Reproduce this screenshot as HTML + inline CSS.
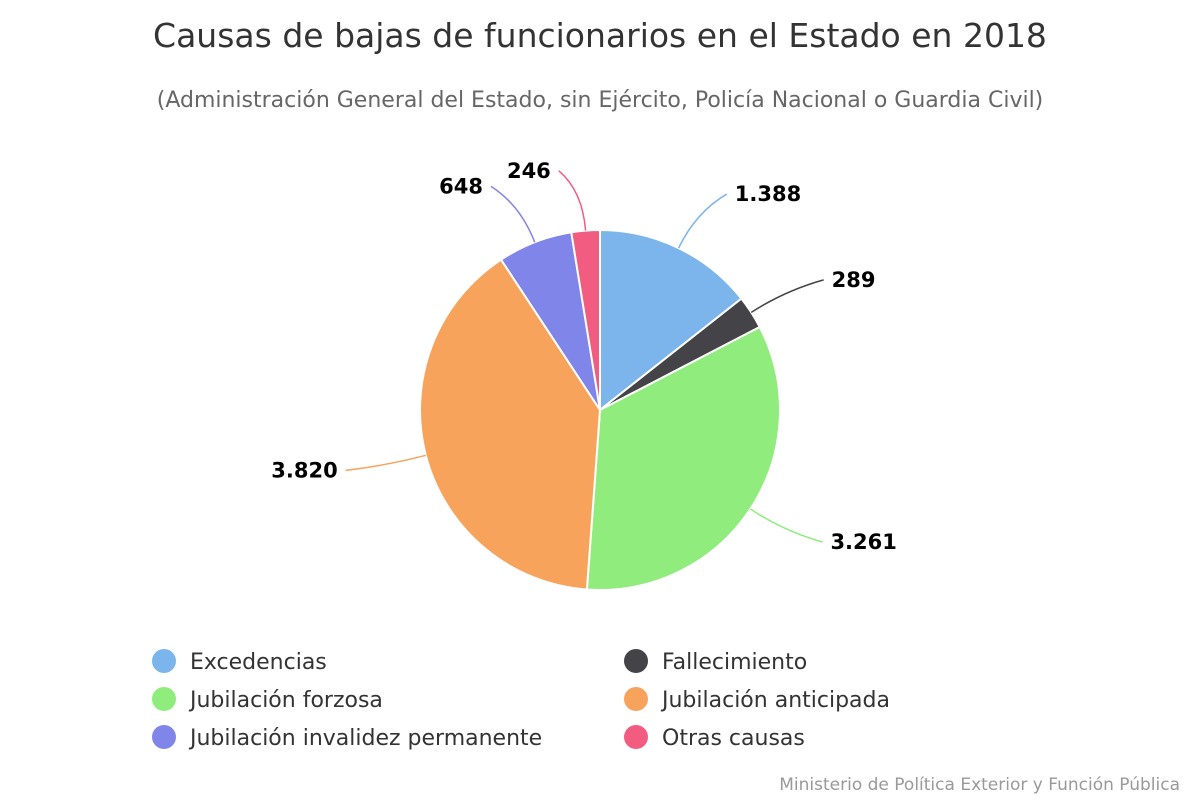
<!DOCTYPE html>
<html><head><meta charset="utf-8">
<style>
body{margin:0;background:#fff;font-family:"DejaVu Sans","Liberation Sans",sans-serif;}
</style></head>
<body>
<svg id="chart" width="1200" height="800" xmlns="http://www.w3.org/2000/svg" font-family="DejaVu Sans, Liberation Sans, sans-serif">
<rect width="1200" height="800" fill="#fff"/>
<text x="600" y="47" text-anchor="middle" font-size="33" fill="#333">Causas de bajas de funcionarios en el Estado en 2018</text>
<text x="600" y="107" text-anchor="middle" font-size="22" fill="#666">(Administración General del Estado, sin Ejército, Policía Nacional o Guardia Civil)</text>
<g id="pie"></g>
<g id="legend"></g>
<text x="1180" y="790" text-anchor="end" font-size="17" fill="#999">Ministerio de Política Exterior y Función Pública</text>
</svg>
<script>
const categories=["Excedencias","Fallecimiento","Jubilación forzosa","Jubilación anticipada","Jubilación invalidez permanente","Otras causas"];
const values=[1388,289,3261,3820,648,246];
const valueLabels=["1.388","289","3.261","3.820","648","246"];
const colors=["#7cb5ec","#434348","#90ed7d","#f7a35c","#8085e9","#f15c80"];
const NS="http://www.w3.org/2000/svg";
const cx=600,cy=410,r=180;
const pie=document.getElementById('pie');
const total=values.reduce((a,b)=>a+b,0);
function pt(a,rad){return [cx+rad*Math.sin(a),cy-rad*Math.cos(a)];}
let acc=0;
values.forEach((v,i)=>{
  const a0=acc/total*2*Math.PI; acc+=v; const a1=acc/total*2*Math.PI;
  const p0=pt(a0,r),p1=pt(a1,r);
  const large=(a1-a0)>Math.PI?1:0;
  const path=document.createElementNS(NS,'path');
  path.setAttribute('d',`M${cx},${cy}L${p0[0]},${p0[1]}A${r},${r} 0 ${large} 1 ${p1[0]},${p1[1]}Z`);
  path.setAttribute('fill',colors[i]);path.setAttribute('stroke','#fff');path.setAttribute('stroke-width','2');
  
  
  pie.appendChild(path);
  const am=(a0+a1)/2;
  const right=Math.sin(am)>=0;
  const e=pt(am,r),b=pt(am,r+40),l=pt(am,r+60);
  const lx=l[0]+(right?30:-30), ly=l[1];
  const c=document.createElementNS(NS,'path');
  c.setAttribute('d',`M${e[0]},${e[1]}Q${b[0]},${b[1]} ${lx+(right?-8:8)},${ly}`);
  c.setAttribute('fill','none');c.setAttribute('stroke',colors[i]);c.setAttribute('stroke-width','1.5');
  
  
  pie.appendChild(c);
  const t=document.createElementNS(NS,'text');
  t.setAttribute('x',lx);t.setAttribute('y',ly+7);
  t.setAttribute('text-anchor',right?'start':'end');
  t.setAttribute('font-size','21');t.setAttribute('font-weight','bold');t.setAttribute('fill','#000');
  
  
  t.textContent=valueLabels[i];
  pie.appendChild(t);
});
const lg=document.getElementById('legend');
categories.forEach((c,i)=>{
  const col=i%2,row=Math.floor(i/2);
  const x=col?636:164,y=661+row*38;
  const g=document.createElementNS(NS,'g');
  
  
  const ci=document.createElementNS(NS,'circle');
  ci.setAttribute('cx',x);ci.setAttribute('cy',y);ci.setAttribute('r','12');ci.setAttribute('fill',colors[i]);
  
  
  const t=document.createElementNS(NS,'text');
  t.setAttribute('x',x+26);t.setAttribute('y',y+8);t.setAttribute('font-size','22');t.setAttribute('fill','#333');
  
  
  t.textContent=c;
  g.appendChild(ci);g.appendChild(t);lg.appendChild(g);
});
</script>
</body></html>
